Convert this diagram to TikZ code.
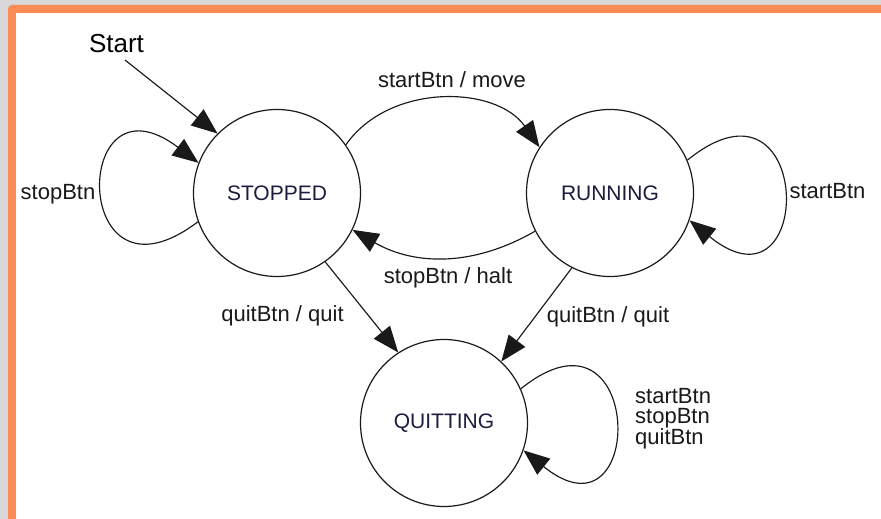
\documentclass[tikz,border=0pt]{standalone}
\usepackage{fontspec}
\setmainfont{Liberation Sans}
\usetikzlibrary{arrows.meta}
\definecolor{frameor}{RGB}{249,139,84}
\definecolor{framegr}{RGB}{216,216,216}
\definecolor{statetxt}{RGB}{28,28,62}
\begin{document}
\begin{tikzpicture}[x=1pt,y=1pt,
  statenode/.style={circle, draw=black!90, line width=1.2pt, minimum size=167pt, inner sep=0pt, text=statetxt, font=\fontsize{21}{21}\selectfont},
  conn/.style={draw=black!90, line width=1.15pt, -{Triangle[length=26pt,width=20.5pt]}},
  lbl/.style={inner sep=0pt, font=\fontsize{22}{20}\selectfont, text=black!90},
]
\useasboundingbox (0,0) rectangle (881,519);
\fill[framegr] (0,0) rectangle (881,519);
\fill[frameor, rounded corners=4pt] (8,-10) rectangle (891,514);
\fill[white] (16,0) rectangle (881,506);

\node[statenode] (S) at (277,326) {STOPPED};
\node[statenode] (R) at (610,326) {RUNNING};
\node[statenode] (Q) at (444,96) {QUITTING};

\node[inner sep=0pt, font=\fontsize{26}{26}\selectfont, anchor=base] (start) at (116.5,466) {Start};
\coordinate (st0) at (125,459);

\draw[conn] (st0) -- (S.135);
\draw[conn] (S.35) to[out=55,in=125] (R.147);
\draw[conn] (R.207) to[out=210,in=-30] (S.-26);
\draw[conn] (S.-55) -- (Q.123);
\draw[conn] (R.243) -- (Q.47);
\draw[conn] (S.200) .. controls +(-128,-97) and +(-128,97) .. (S.159);
\draw[conn] (R.23) .. controls +(127,103) and +(127,-103) .. (R.-19);
\draw[conn] (Q.24) .. controls +(124,100) and +(124,-100) .. (Q.-19);

\node[lbl, anchor=base] (l1) at (452,431) {startBtn / move};
\node[lbl, anchor=base] (l2) at (448,235) {stopBtn / halt};
\node[lbl, anchor=base] (l3) at (282.5,197) {quitBtn / quit};
\node[lbl, anchor=base] (l4) at (608,196) {quitBtn / quit};
\node[lbl, anchor=base] (l5) at (58,319) {stopBtn};
\node[lbl, anchor=base] (l6) at (827.5,320) {startBtn};
\node[lbl, anchor=west, align=left] (l7) at (635,100.5) {startBtn\\stopBtn\\quitBtn};
\end{tikzpicture}
\end{document}
